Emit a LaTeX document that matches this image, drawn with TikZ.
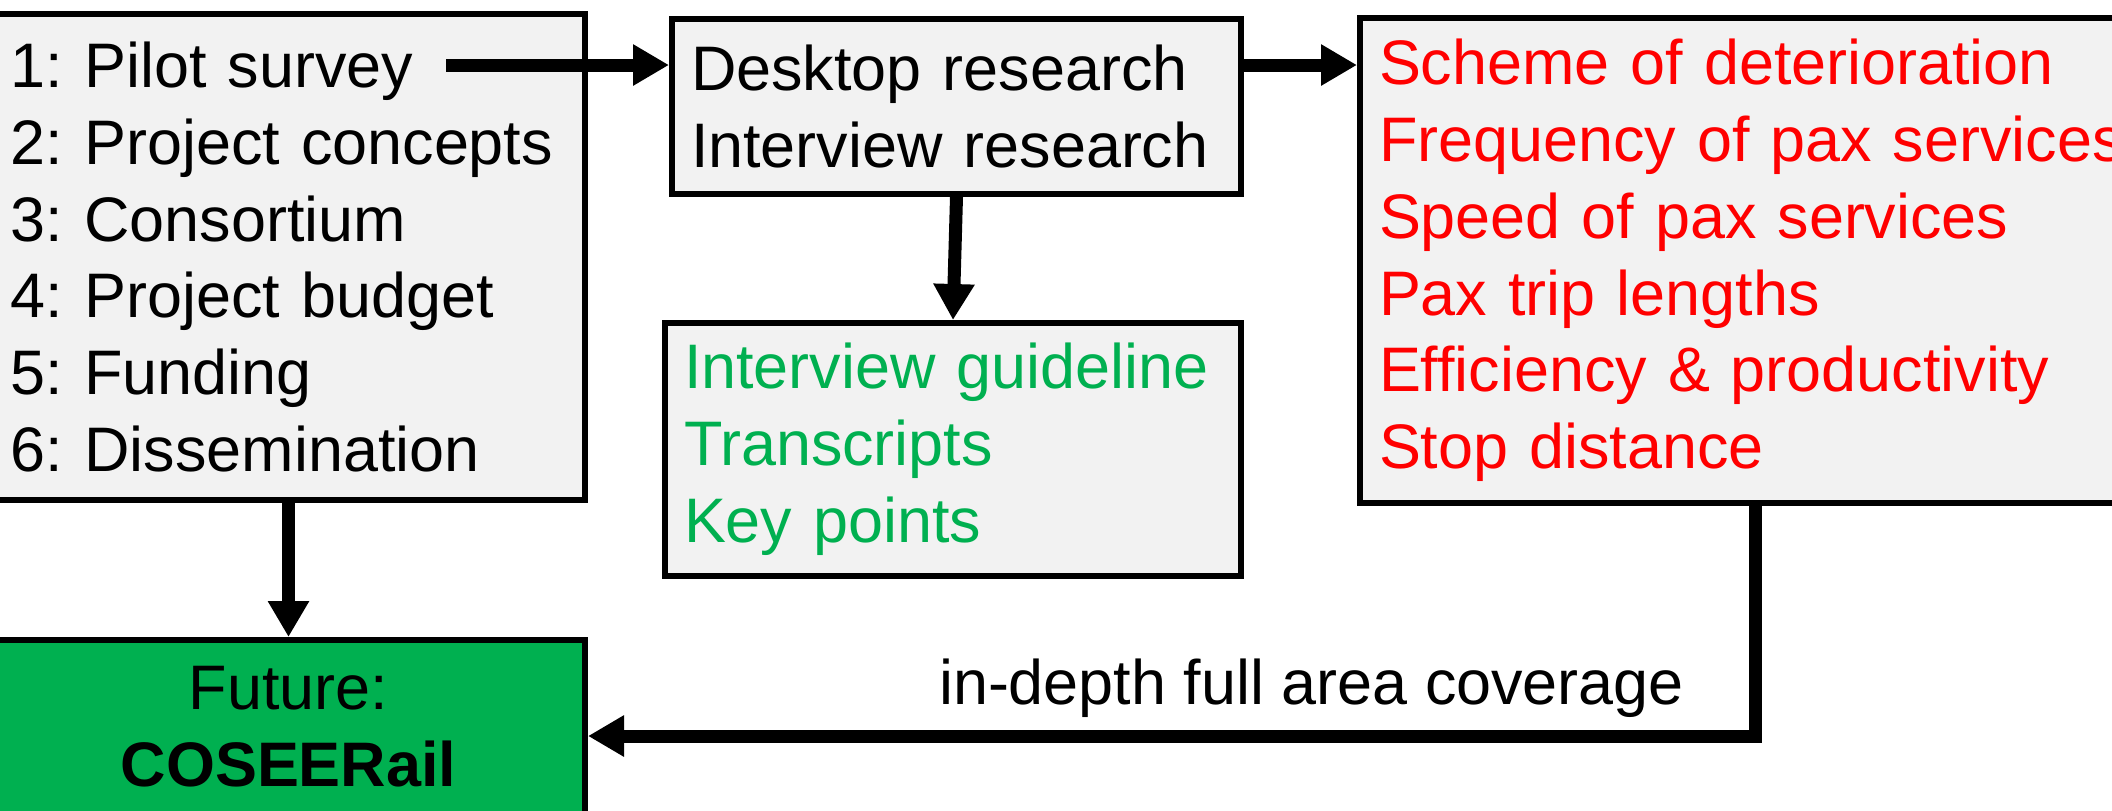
\documentclass[tikz,border=0pt]{standalone}
\usepackage{fontspec}
\setmainfont{Liberation Sans}
\usepackage{xcolor}
\usetikzlibrary{arrows.meta}
\definecolor{boxgray}{RGB}{242,242,242}
\definecolor{okgreen}{RGB}{0,176,80}
\definecolor{alertred}{RGB}{255,0,0}
\newlength{\boxline}
\setlength{\boxline}{0.06cm}
\newlength{\flowline}
\setlength{\flowline}{0.13cm}
\frenchspacing

\begin{document}
\begin{tikzpicture}[font=\fontsize{17.9}{21.85}\selectfont,
    box/.style={draw,line width=\boxline,fill=boxgray,inner xsep=0.19cm,inner ysep=0pt,align=left,anchor=north west},
    flow/.style={line width=\flowline,-{Triangle[width=0.39cm,length=0.36cm]}}]
  \path[use as bounding box,clip] (0,0) rectangle (21.12,-8.10);
  \node[box,text width=5.55cm,minimum height=4.86cm] (tasks) at (-0.11,-0.11) {1: Pilot survey\\2: Project concepts\\3: Consortium\\4: Project budget\\5: Funding\\6: Dissemination};
  \node[box,text width=5.31cm,minimum height=1.75cm] (desk) at (6.69,-0.16) {Desktop research\\Interview research};
  \node[box,text width=5.38cm,minimum height=2.53cm,text=okgreen] (outputs) at (6.62,-3.20) {Interview guideline\\Transcripts\\Key points};
  \node[box,text width=7.50cm,minimum height=4.85cm,text=alertred] (indicators) at (13.57,-0.15) {Scheme of deterioration\\Frequency of pax services\\Speed of pax services\\Pax trip lengths\\Efficiency \& productivity\\Stop distance};
  \node[box,fill=okgreen,align=center,text width=5.55cm,minimum height=1.92cm,text depth=0.96cm] (future) at (-0.11,-6.37) {Future:\\\textbf{COSEERail}};
  \coordinate (pilot) at (4.46,-0.65);
  \draw[flow] (pilot) -- (pilot -| desk.west);
  \draw[flow] (desk.east |- pilot) -- (pilot -| indicators.west);
  \draw[flow] (desk.south) -- (outputs.north);
  \draw[flow] (tasks.south) -- (future.north);
  \draw[flow] ([xshift=3.98cm]indicators.south west) |- (future.east) node[pos=0.69,above] {in-depth full area coverage};
\end{tikzpicture}
\end{document}
